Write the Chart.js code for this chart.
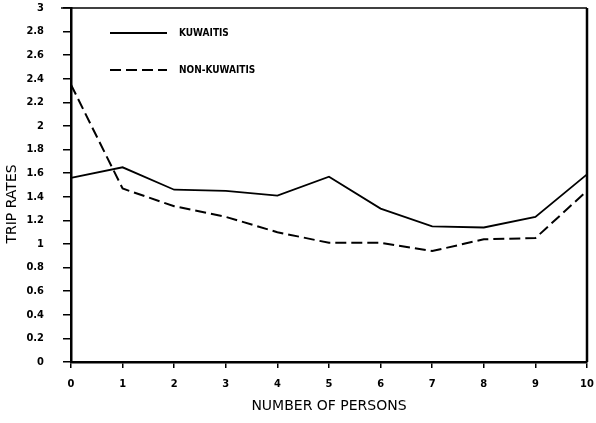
<!DOCTYPE html>
<html>
<head>
<meta charset="utf-8">
<script src="https://cdn.jsdelivr.net/npm/chart.js@4.4.1/dist/chart.umd.min.js"></script>
<style>
  html, body { margin: 0; padding: 0; background: #fff; }
  #wrap { width: 596px; height: 423px; }
</style>
</head>
<body>
<div id="wrap"><canvas id="tripChart" width="596" height="423"></canvas></div>
<script>
// ------------------------------
// Data
const personLabels = ['0', '1', '2', '3', '4', '5', '6', '7', '8', '9', '10'];
const kuwaitis = [1.56, 1.65, 1.46, 1.45, 1.41, 1.57, 1.30, 1.15, 1.14, 1.23, 1.59];
const nonKuwaitis = [2.35, 1.47, 1.32, 1.23, 1.10, 1.01, 1.01, 0.94, 1.04, 1.05, 1.45];
const yTickValues = [0, 0.2, 0.4, 0.6, 0.8, 1, 1.2, 1.4, 1.6, 1.8, 2, 2.2, 2.4, 2.6, 2.8, 3];

const tickFont = { family: "'DejaVu Sans Condensed', 'DejaVu Sans', sans-serif", size: 11, weight: 'bold' };

// ------------------------------
// Frame (top + right border), legend inside plot, rotated y title.
const framePlugin = {
  id: 'framePlugin',
  afterDraw: function(chart) {
    const ctx = chart.ctx;
    const a = chart.chartArea;
    ctx.save();
    ctx.strokeStyle = '#000';
    ctx.lineWidth = 1.5;
    ctx.beginPath();
    ctx.moveTo(a.left - 10, a.top);
    ctx.lineTo(a.right, a.top);
    ctx.stroke();
    ctx.lineWidth = 2.5;
    ctx.beginPath();
    ctx.moveTo(a.right, a.top);
    ctx.lineTo(a.right, a.bottom);
    ctx.stroke();

    // legend
    ctx.font = "bold 10px 'DejaVu Sans Condensed', 'DejaVu Sans', sans-serif";
    ctx.textBaseline = 'middle';
    ctx.fillStyle = '#000';
    chart.data.datasets.forEach(function(ds, i) {
      const y = 33 + i * 37;
      ctx.lineWidth = 1.8;
      ctx.setLineDash(ds.borderDash || []);
      ctx.beginPath();
      ctx.moveTo(110, y);
      ctx.lineTo(167, y);
      ctx.stroke();
      ctx.setLineDash([]);
      ctx.fillText(ds.label, 179, y);
    });

    // y axis title
    ctx.translate(12, 204);
    ctx.rotate(-Math.PI / 2);
    ctx.textAlign = 'center';
    ctx.font = "14px 'DejaVu Sans', sans-serif";
    ctx.fillText('TRIP RATES', 0, 0);
    ctx.restore();
  }
};

const ctx = document.getElementById('tripChart').getContext('2d');
new Chart(ctx, {
  type: 'line',
  data: {
    labels: personLabels,
    datasets: [
      {
        label: 'KUWAITIS',
        data: kuwaitis,
        borderColor: '#000',
        borderWidth: 1.8,
        pointRadius: 0,
        tension: 0,
        fill: false
      },
      {
        label: 'NON-KUWAITIS',
        data: nonKuwaitis,
        borderColor: '#000',
        borderWidth: 2,
        borderDash: [11, 5],
        pointRadius: 0,
        tension: 0,
        fill: false
      }
    ]
  },
  options: {
    responsive: false,
    animation: false,
    layout: { padding: { top: 8, right: 9, left: 0, bottom: 0 } },
    plugins: {
      legend: { display: false },
      tooltip: { enabled: false }
    },
    scales: {
      x: {
        offset: false,
        afterFit: function(scale) {
          scale.height = 61;
          scale.paddingLeft = 0;
          scale.paddingRight = 0;
        },
        border: { color: '#000', width: 2.5 },
        grid: { drawOnChartArea: false, drawTicks: true, tickLength: 6, color: '#000', lineWidth: 1.5 },
        ticks: { color: '#000', font: tickFont, padding: 10, maxRotation: 0, autoSkip: false },
        title: {
          display: true,
          text: 'NUMBER OF PERSONS',
          color: '#000',
          font: { family: "'DejaVu Sans', sans-serif", size: 14 },
          padding: { top: 4, bottom: 8 }
        }
      },
      y: {
        min: 0,
        max: 3,
        afterFit: function(scale) {
          scale.width = 71;
          scale.paddingTop = 0;
          scale.paddingBottom = 0;
        },
        afterBuildTicks: function(axis) {
          axis.ticks = yTickValues.map(function(v) { return { value: v }; });
        },
        border: { color: '#000', width: 2.5 },
        grid: { drawOnChartArea: false, drawTicks: true, tickLength: 8, color: '#000', lineWidth: 1.5 },
        ticks: {
          color: '#000',
          font: tickFont,
          padding: 19,
          callback: function(v) { return String(Math.round(v * 10) / 10); }
        }
      }
    }
  },
  plugins: [framePlugin]
});
</script>
</body>
</html>
